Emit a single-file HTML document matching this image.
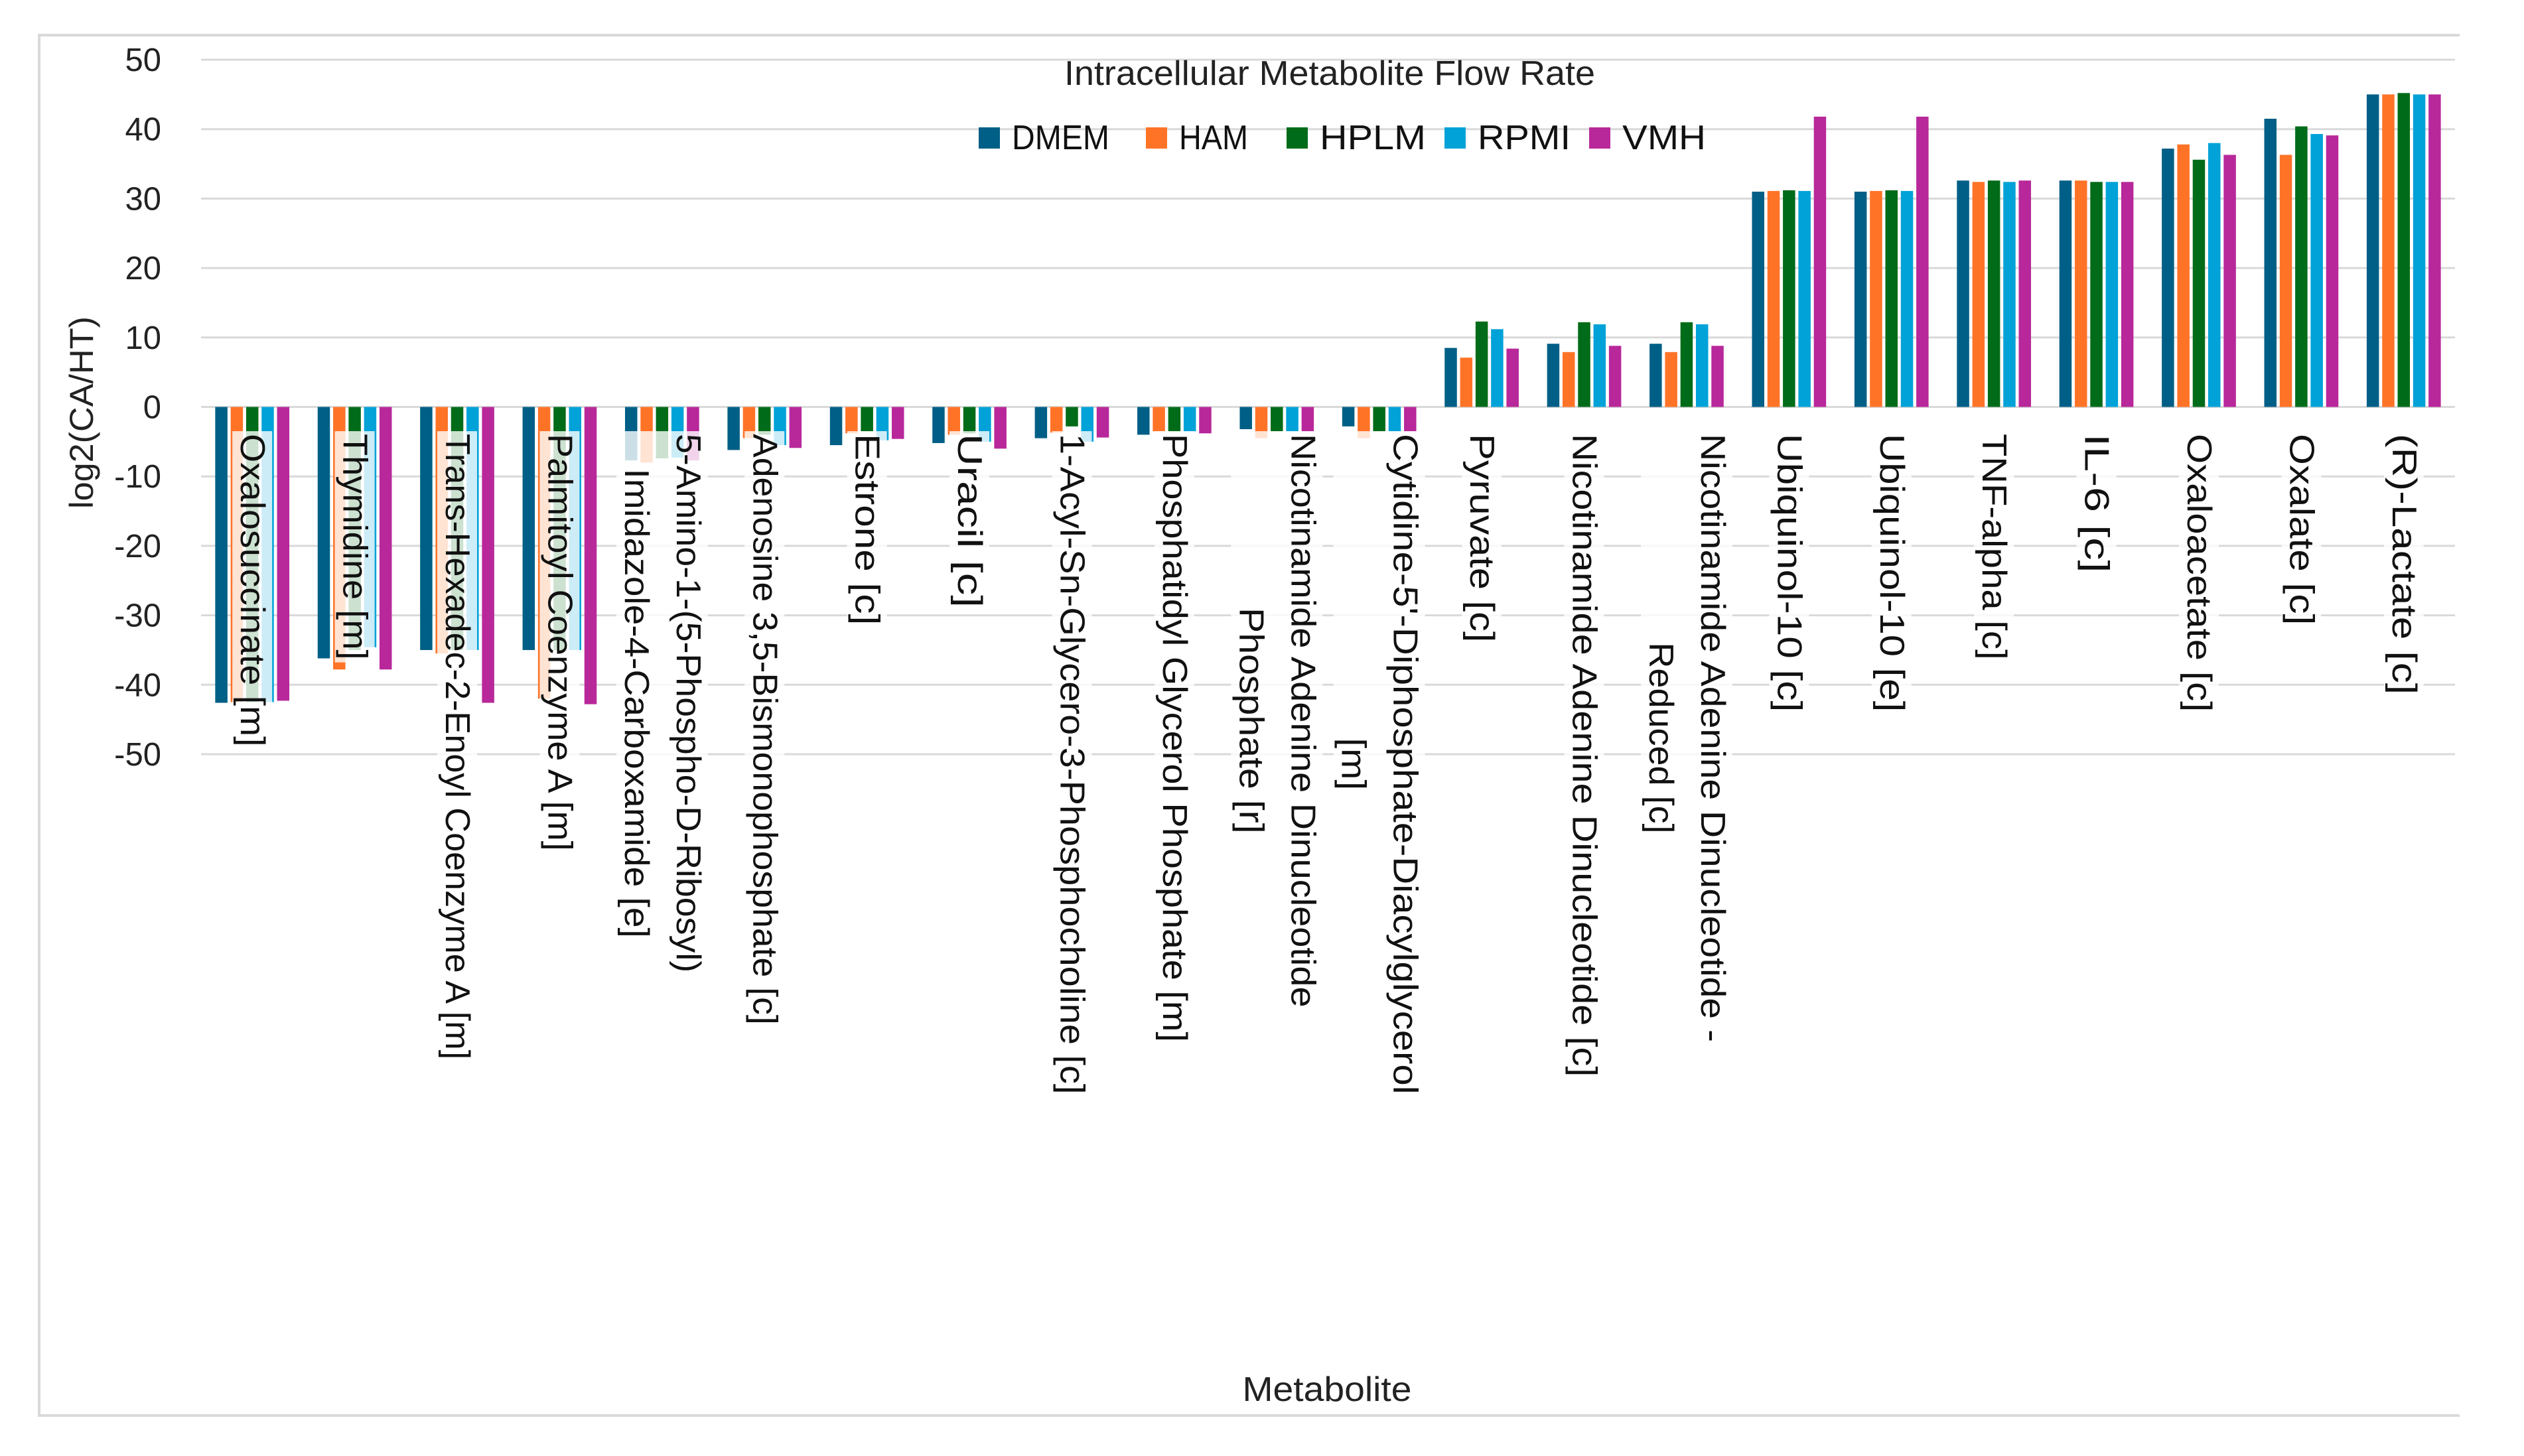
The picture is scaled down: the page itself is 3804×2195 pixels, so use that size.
<!DOCTYPE html>
<html><head><meta charset="utf-8"><style>
html,body{margin:0;padding:0;background:#fff;}
svg{display:block;}
text{font-family:"Liberation Sans",sans-serif;}
</style></head><body>
<svg id="chart" width="3804" height="2195" viewBox="0 0 3804 2195" xmlns="http://www.w3.org/2000/svg">
<path d="M3707 53 H59 V2134 H3707" fill="none" stroke="#d9d9d9" stroke-width="4"/>
<g id="grid"></g>
<g id="yticks"></g>
<g id="bars"></g>
<g id="xlabels"></g>
<text x="2004" y="128" font-size="52" text-anchor="middle" textLength="800" lengthAdjust="spacingAndGlyphs" fill="#222">Intracellular Metabolite Flow Rate</text>
<g id="legend"></g>
<text transform="translate(140,622) rotate(-90)" font-size="50" text-anchor="middle" textLength="290" lengthAdjust="spacingAndGlyphs" fill="#222">log2(CA/HT)</text>
<text x="2000" y="2112" font-size="52" text-anchor="middle" textLength="255" lengthAdjust="spacingAndGlyphs" fill="#222">Metabolite</text>
</svg>
<script>
const categories = [
 ["Oxalosuccinate [m]"],
 ["Thymidine [m]"],
 ["Trans-Hexadec-2-Enoyl Coenzyme A [m]"],
 ["Palmitoyl Coenzyme A [m]"],
 ["5-Amino-1-(5-Phospho-D-Ribosyl)","Imidazole-4-Carboxamide [e]"],
 ["Adenosine 3,5-Bismonophosphate [c]"],
 ["Estrone [c]"],
 ["Uracil [c]"],
 ["1-Acyl-Sn-Glycero-3-Phosphocholine [c]"],
 ["Phosphatidyl Glycerol Phosphate [m]"],
 ["Nicotinamide Adenine Dinucleotide","Phosphate [r]"],
 ["Cytidine-5'-Diphosphate-Diacylglycerol","[m]"],
 ["Pyruvate [c]"],
 ["Nicotinamide Adenine Dinucleotide [c]"],
 ["Nicotinamide Adenine Dinucleotide -","Reduced [c]"],
 ["Ubiquinol-10 [c]"],
 ["Ubiquinol-10 [e]"],
 ["TNF-alpha [c]"],
 ["IL-6 [c]"],
 ["Oxaloacetate [c]"],
 ["Oxalate [c]"],
 ["(R)-Lactate [c]"]
];
const seriesNames = ["DMEM","HAM","HPLM","RPMI","VMH"];
const dmem = [-42.6,-36.2,-35.0,-35.0,-7.7,-6.2,-5.5,-5.2,-4.5,-4.0,-3.2,-2.8,8.5,9.1,9.1,31.0,31.0,32.6,32.6,37.2,41.5,45.0];
const ham  = [-42.5,-37.8,-35.5,-42.0,-8.0,-4.5,-3.8,-4.0,-3.7,-3.5,-4.5,-4.5,7.1,7.9,7.9,31.1,31.1,32.4,32.6,37.8,36.3,45.0];
const hplm = [-42.5,-35.0,-35.0,-35.0,-7.4,-4.0,-3.5,-3.8,-2.8,-3.5,-3.5,-3.5,12.3,12.2,12.2,31.2,31.2,32.6,32.4,35.6,40.4,45.2];
const rpmi = [-42.5,-34.6,-35.0,-35.0,-7.3,-5.5,-4.8,-5.0,-5.0,-3.5,-3.5,-3.5,11.2,11.9,11.9,31.1,31.1,32.4,32.4,38.0,39.3,45.0];
const vmh  = [-42.3,-37.8,-42.6,-42.8,-7.7,-5.9,-4.6,-6.0,-4.4,-3.8,-3.5,-3.5,8.4,8.8,8.8,41.8,41.8,32.6,32.4,36.3,39.1,45.0];
const yTicks = [50,40,30,20,10,0,-10,-20,-30,-40,-50];

const series = [dmem,ham,hplm,rpmi,vmh];
const colors = ["#005f86","#ff7327","#006b18","#00a2d8","#b8289a"];
const NS="http://www.w3.org/2000/svg";
const plotL=303, plotR=3700, y50=90, y0=613, yM50=1137;
const yMax=50, yMin=-50;
function yScale(v){return y50 + (yMax - v)/(yMax-yMin)*(yM50-y50);}
const catW=(plotR-plotL)/categories.length;
function xCat(i){return plotL + i*catW;}
const barW=18.5, barStep=23.3;
const groupW=barStep*(series.length-1)+barW;
function mk(tag,attrs,parent){const e=document.createElementNS(NS,tag);for(const k in attrs)e.setAttribute(k,attrs[k]);parent.appendChild(e);return e;}

const grid=document.getElementById('grid');
const yt=document.getElementById('yticks');
yTicks.forEach(t=>{
  const l=mk('line',{x1:plotL,x2:plotR,y1:yScale(t),y2:yScale(t),stroke:'#d9d9d9','stroke-width':3},grid);
  
  
  const tx=mk('text',{x:243,y:yScale(t)+17,'font-size':49,'text-anchor':'end',fill:'#222'},yt);
  tx.textContent=String(t);
  
  
});

const bars=document.getElementById('bars');
categories.forEach((c,i)=>{
  const gx=xCat(i)+(catW-groupW)/2;
  series.forEach((s,j)=>{
    const v=s[i];
    const ya=yScale(Math.max(v,0)), yb=yScale(Math.min(v,0));
    const r=mk('rect',{x:gx+j*barStep,y:ya,width:barW,height:Math.max(yb-ya,0.5),fill:colors[j]},bars);
    
    
  });
});

const xl=document.getElementById('xlabels');
const labelTop=654, charW=26.2, lineGap=78, fs=52;
categories.forEach((lines,i)=>{
  const cx=xCat(i)+catW/2;
  const maxLen=Math.max(...lines.map(s=>s.length))*charW;
  const n=lines.length;
  const g=mk('g',{},xl);
  
  
  const bw=n*lineGap-18;
  mk('rect',{x:cx-bw/2,y:labelTop-4,width:bw,height:maxLen+8,fill:'#fff','fill-opacity':0.8},g);
  lines.forEach((s,k)=>{
    const off=((n-1)/2-k)*lineGap;
    const lx=cx+off-17;
    const ly=labelTop+maxLen/2;
    const t=mk('text',{transform:`translate(${lx},${ly}) rotate(90)`,'font-size':fs,'text-anchor':'middle',textLength:s.length*charW,lengthAdjust:'spacingAndGlyphs',fill:'#111'},g);
    t.textContent=s;
  });
});

const lg=document.getElementById('legend');
const legX=[1475,1727,1939,2177,2395];
const legW=[147,104,160,140,126];
seriesNames.forEach((n,j)=>{
  const g=mk('g',{},lg);
  
  
  mk('rect',{x:legX[j],y:192,width:32,height:32,fill:colors[j]},g);
  const t=mk('text',{x:legX[j]+50,y:225,'font-size':52,textLength:legW[j],lengthAdjust:'spacingAndGlyphs',fill:'#111'},g);
  t.textContent=n;
});
</script>
</body></html>
